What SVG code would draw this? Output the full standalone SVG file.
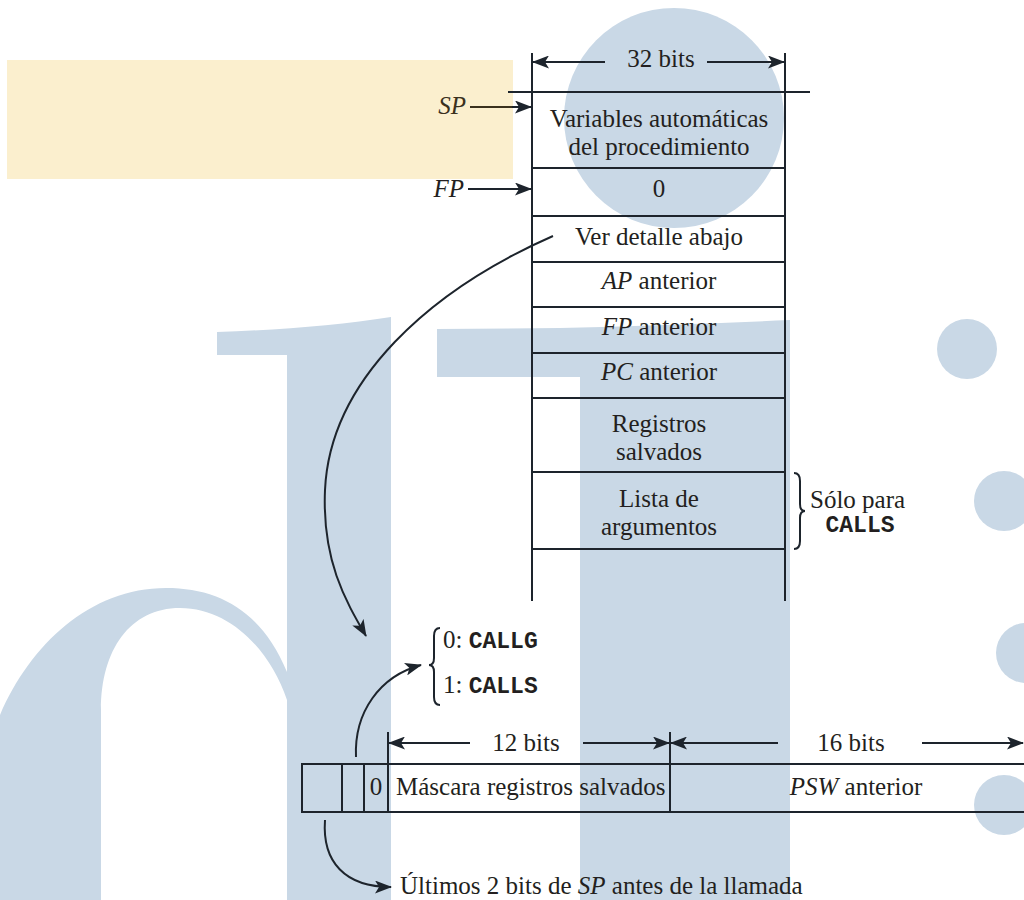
<svg xmlns="http://www.w3.org/2000/svg" width="1024" height="900" viewBox="0 0 1024 900">
<defs>
<style>
.t{font-family:"Liberation Serif","Times New Roman",serif;font-size:25px;fill:#231f20}
.c{text-anchor:middle}
.e{text-anchor:end}
.i{font-style:italic}
.m{font-family:"Liberation Mono","Courier New",monospace;font-weight:bold;font-size:23px}
.ln{stroke:#1d242c;stroke-width:2;fill:none}
.ar{stroke:#1d242c;stroke-width:2;fill:none;marker-end:url(#ah)}
.wm{fill:#c9d8e6}
</style>
<marker id="ah" viewBox="0 0 17 13" refX="16" refY="6.5" markerWidth="17" markerHeight="13" markerUnits="userSpaceOnUse" orient="auto"><path d="M0,0 L17,6.5 L0,13 L4,6.5 Z" fill="#1d242c"/></marker>
</defs>
<g id="background">
<rect width="1024" height="900" fill="#ffffff"/>
<rect x="7" y="60" width="506" height="119" fill="#fbefce"/>
<circle class="wm" cx="674" cy="118" r="110"/>
<path class="wm" d="M217,332 C280,330 340,325 391,317 L391,900 L287,900 L287,355 L217,355 Z"/>
<path class="wm" d="M287,672 C262,612 220,588 166,588 C90,588 30,645 0,715 L0,900 L101,900 L101,710 C101,650 130,608 180,608 C230,608 270,650 287,700 Z"/>
<path class="wm" d="M437,329 L560,328 Q680,325 790,320 L790,900 L580,900 L580,377 L437,377 Z"/>
<circle class="wm" cx="967" cy="349" r="30"/>
<circle class="wm" cx="1004" cy="501" r="30"/>
<circle class="wm" cx="1026" cy="653" r="30"/>
<circle class="wm" cx="1004" cy="805" r="30"/>
</g>
<g id="stack">
<path class="ln" d="M532,53 V601 M785,53 V601 M508,92 H810 M532,168 H785 M532,216 H785 M532,262 H785 M532,307 H785 M532,353 H785 M532,398 H785 M532,472 H785 M532,549 H785"/>
</g>
<g id="width32">
<path class="ar" d="M605,62 H533"/>
<path class="ar" d="M707,62 H784"/>
<text class="t c" x="661" y="67">32 bits</text>
</g>
<g id="sp">
<text class="t e i" x="466" y="114" style="fill:#3a311d">SP</text>
<path d="M470,107 H513" stroke="#3a311d" stroke-width="2"/>
<path class="ar" d="M512,107 H531"/>
</g>
<g id="fp">
<text class="t e i" x="464" y="197">FP</text>
<path class="ar" d="M468,189 H531"/>
</g>
<g id="row-vars"><text class="t c" x="659" y="127">Variables automáticas</text><text class="t c" x="659" y="155">del procedimiento</text></g>
<g id="row-zero"><text class="t c" x="659" y="197">0</text></g>
<g id="row-detalle"><text class="t c" x="659" y="245">Ver detalle abajo</text></g>
<g id="row-ap"><text class="t c" x="659" y="289"><tspan class="i">AP</tspan> anterior</text></g>
<g id="row-fp"><text class="t c" x="659" y="335"><tspan class="i">FP</tspan> anterior</text></g>
<g id="row-pc"><text class="t c" x="659" y="380"><tspan class="i">PC</tspan> anterior</text></g>
<g id="row-regs"><text class="t c" x="659" y="432">Registros</text><text class="t c" x="659" y="460">salvados</text></g>
<g id="row-args"><text class="t c" x="659" y="507">Lista de</text><text class="t c" x="659" y="535">argumentos</text></g>
<g id="note-calls">
<path class="ln" d="M794,473 Q800,473 800,481 L800,504 Q800,511 805,511 Q800,511 800,518 L800,541 Q800,549 794,549"/>
<text class="t" x="810" y="508">Sólo para</text>
<text class="t m c" x="860" y="532">CALLS</text>
</g>
<g id="mask-word">
<rect x="302" y="764" width="740" height="48" class="ln"/>
<path class="ln" d="M342,764 V812 M364,764 V812 M388,732 V812 M670,732 V812"/>
<text class="t c" x="376" y="795">0</text>
<text class="t" x="396" y="795">Máscara registros salvados</text>
<text class="t c" x="856" y="795"><tspan class="i">PSW</tspan> anterior</text>
</g>
<g id="width12">
<path class="ar" d="M470,743 H389"/>
<path class="ar" d="M583,743 H669"/>
<text class="t c" x="526" y="751">12 bits</text>
</g>
<g id="width16">
<path class="ar" d="M778,743 H671"/>
<path class="ar" d="M922,743 H1023"/>
<text class="t c" x="851" y="751">16 bits</text>
</g>
<g id="call-type">
<path class="ln" d="M440,628 Q434,628 434,636 L434,658 Q434,665 429,665 Q434,665 434,672 L434,697 Q434,705 440,705"/>
<text class="t" x="443" y="648">0: <tspan class="m">CALLG</tspan></text>
<text class="t" x="443" y="693">1: <tspan class="m">CALLS</tspan></text>
</g>
<g id="sp-bits">
<text class="t" x="400" y="894">Últimos 2 bits de <tspan class="i">SP</tspan> antes de la llamada</text>
</g>
<g id="connectors">
<path class="ar" d="M553,236 C430,290 330,380 325,490 C322,560 345,600 366,636"/>
<path class="ar" d="M356,757 C354,712 380,676 421,665"/>
<path class="ar" d="M325,820 C322,862 345,887 391,887"/>
</g>
</svg>
